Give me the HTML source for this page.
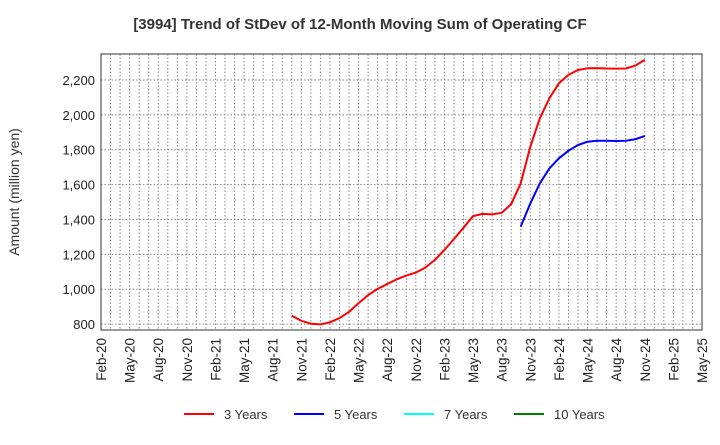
<!DOCTYPE html>
<html><head><meta charset="utf-8"><style>
body{margin:0;background:#fff;}
svg text{font-family:"Liberation Sans",Arial,sans-serif;}
</style></head><body>
<svg id="chart" width="720" height="440" xmlns="http://www.w3.org/2000/svg">
<text x="360" y="29" text-anchor="middle" font-size="15" font-weight="bold" fill="#333">[3994]  Trend of StDev of 12-Month Moving Sum of Operating CF</text>
<text transform="translate(19,192) rotate(-90)" text-anchor="middle" font-size="14" fill="#333">Amount (million yen)</text>
<g id="grid"></g><g id="series"></g><g id="axes"></g><g id="legend"></g>
</svg>
<script>
const xTickLabels=["Feb-20","May-20","Aug-20","Nov-20","Feb-21","May-21","Aug-21","Nov-21","Feb-22","May-22","Aug-22","Nov-22","Feb-23","May-23","Aug-23","Nov-23","Feb-24","May-24","Aug-24","Nov-24","Feb-25","May-25"];
const yTicks=[800,1000,1200,1400,1600,1800,2000,2200];
const start3=20;
const values3=[848,819,802,798,810,834,870,920,966,1002,1030,1057,1078,1095,1124,1168,1225,1288,1352,1419,1432,1429,1438,1488,1607,1817,1980,2095,2181,2229,2257,2267,2268,2266,2265,2266,2282,2315];
const start5=44;
const values5=[1358,1492,1607,1693,1751,1794,1827,1846,1852,1852,1850,1852,1860,1879];
const seriesNames=["3 Years","5 Years","7 Years","10 Years"];
const seriesColors=["#ff0000","#0000ff","#00ffff","#008000"];

const L=101,R=702,T=54,B=330,yMin=766,yMax=2349,nMonths=63;
const NS="http://www.w3.org/2000/svg";
const xs=i=>L+i*(R-L)/nMonths;
const ys=v=>B-(v-yMin)/(yMax-yMin)*(B-T);
function mk(tag,attrs,parent){const e=document.createElementNS(NS,tag);for(const k in attrs)e.setAttribute(k,attrs[k]);parent.appendChild(e);return e;}
const grid=document.getElementById('grid'),axes=document.getElementById('axes'),series=document.getElementById('series'),legend=document.getElementById('legend');
for(let i=0;i<=nMonths;i++){const x=xs(i);const g=mk('line',{x1:x,x2:x,y1:T,y2:B,stroke:'#888','stroke-dasharray':'1.5,2','stroke-width':1},grid);

}
yTicks.forEach(v=>{const y=ys(v);const g=mk('line',{x1:L,x2:R,y1:y,y2:y,stroke:'#888','stroke-dasharray':'1.5,2'},grid);


const t=mk('text',{x:L-6,y:y+5,'text-anchor':'end','font-size':13,fill:'#222'},axes);t.textContent=v.toLocaleString('en-US');

});
const fr=mk('rect',{x:L,y:T,width:R-L,height:B-T,fill:'none',stroke:'#333','stroke-width':1},axes);


xTickLabels.forEach((lab,i)=>{const x=xs(i*3);const t=mk('text',{transform:`translate(${x+5},${B+8}) rotate(-90)`,'text-anchor':'end','font-size':13.5,fill:'#222'},axes);t.textContent=lab;

});
function drawLine(start,vals,color,name){const pts=vals.map((v,k)=>xs(start+k).toFixed(1)+','+ys(v).toFixed(1)).join(' ');
const p=mk('polyline',{points:pts,fill:'none',stroke:color,'stroke-width':2,'stroke-linejoin':'round'},series);

}
drawLine(start3,values3,seriesColors[0],'line-3-years');
drawLine(start5,values5,seriesColors[1],'line-5-years');
const lx=[184,294,404,514];
seriesNames.forEach((n,i)=>{const g=mk('g',{},legend);


mk('line',{x1:lx[i],x2:lx[i]+30,y1:414,y2:414,stroke:seriesColors[i],'stroke-width':2},g);
const t=mk('text',{x:lx[i]+40,y:419,'font-size':13,fill:'#333'},g);t.textContent=n;});
</script>
</body></html>
